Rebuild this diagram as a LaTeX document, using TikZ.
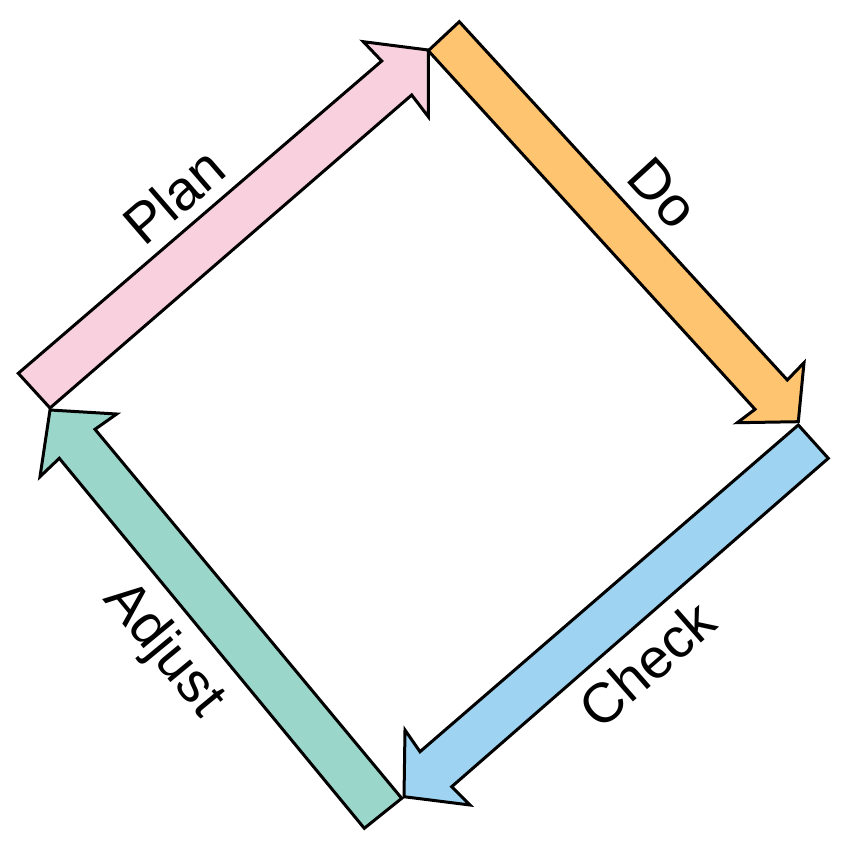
\documentclass[tikz,border=0pt]{standalone}
\usepackage{fontspec}
\setmainfont{Liberation Sans}
\definecolor{planfill}{HTML}{F9D0DE}
\definecolor{dofill}{HTML}{FFC46F}
\definecolor{checkfill}{HTML}{9ED3F1}
\definecolor{adjustfill}{HTML}{9BD6CA}
\tikzset{
  flexarrow/.style={draw=black, line width=3pt, line join=miter},
  steplabel/.style={font=\fontsize{56}{62}\selectfont, inner sep=0pt, anchor=center}
}
\begin{document}
\begin{tikzpicture}[x=1pt,y=-1pt]
\useasboundingbox (0,0) rectangle (857,846);
% Plan arrow
\coordinate (p1) at (18.3,373.3);
\coordinate (p2) at (50,408);
\coordinate (p3) at (411.7,95);
\coordinate (p4) at (428.3,116.7);
\coordinate (p5) at (428.3,50);
\coordinate (p6) at (363.3,41.7);
\coordinate (p7) at (381.7,61);
\draw[flexarrow, fill=planfill] (p1) -- (p2) -- (p3) -- (p4) -- (p5) -- (p6) -- (p7) -- cycle;
% Do arrow
\coordinate (d1) at (428.3,50.7);
\coordinate (d2) at (459.3,21.7);
\coordinate (d3) at (787.3,380);
\coordinate (d4) at (804,362.7);
\coordinate (d5) at (798.3,421.7);
\coordinate (d6) at (737.3,422.7);
\coordinate (d7) at (755,409.3);
\draw[flexarrow, fill=dofill] (d1) -- (d2) -- (d3) -- (d4) -- (d5) -- (d6) -- (d7) -- cycle;
% Check arrow
\coordinate (c1) at (798.3,425);
\coordinate (c2) at (828.3,458.3);
\coordinate (c3) at (451.7,786.7);
\coordinate (c4) at (470,805);
\coordinate (c5) at (404,796.7);
\coordinate (c6) at (405,730);
\coordinate (c7) at (420,751.7);
\draw[flexarrow, fill=checkfill] (c1) -- (c2) -- (c3) -- (c4) -- (c5) -- (c6) -- (c7) -- cycle;
% Adjust arrow
\coordinate (a1) at (401.7,798.3);
\coordinate (a2) at (364.3,828.3);
\coordinate (a3) at (59.3,458.3);
\coordinate (a4) at (40,476.7);
\coordinate (a5) at (50,410);
\coordinate (a6) at (116.7,414);
\coordinate (a7) at (95,429.3);
\draw[flexarrow, fill=adjustfill] (a1) -- (a2) -- (a3) -- (a4) -- (a5) -- (a6) -- (a7) -- cycle;
% Labels
\node[steplabel, rotate=40.8] (plan) at (174,196) {Plan};
\node[steplabel, rotate=-47.5] (do) at (663,193) {Do};
\node[steplabel, rotate=41.2] (check) at (647,664) {Check};
\node[steplabel, rotate=-50.5] (adjust) at (163,650) {Adjust};
\end{tikzpicture}
\end{document}
